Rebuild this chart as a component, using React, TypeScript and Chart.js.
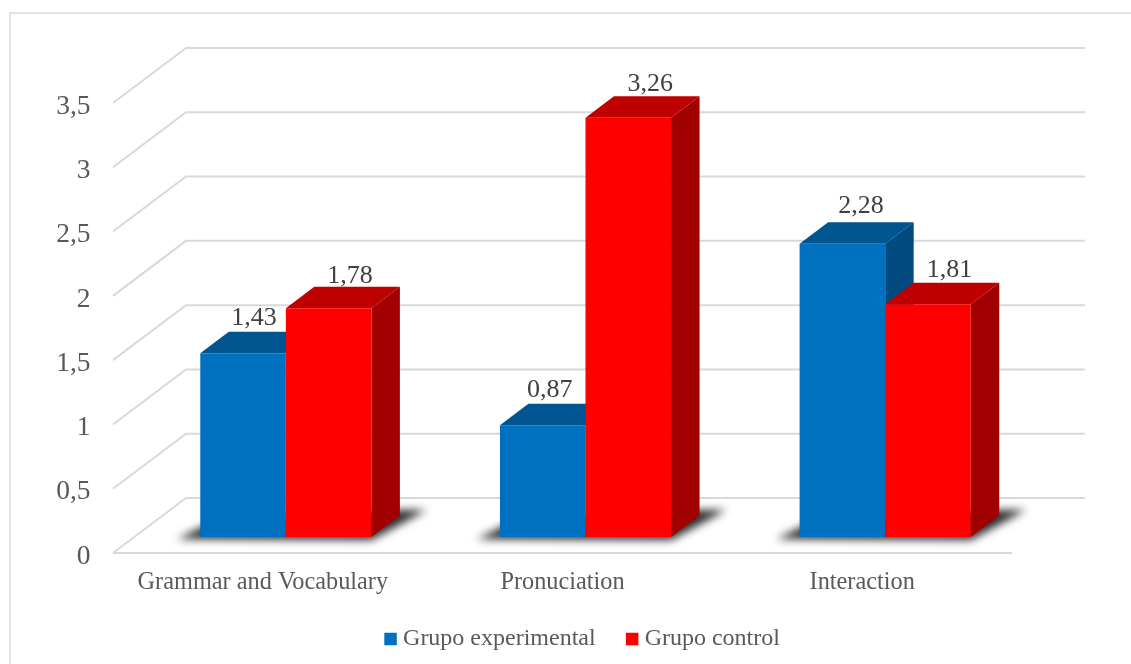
import React, { useEffect, useRef } from "react";
import { Chart, registerables } from "chart.js";

Chart.register(...registerables);

const categories = ["Grammar and Vocabulary", "Pronuciation", "Interaction"];
const grupoExperimental = [1.43, 0.87, 2.28];
const grupoControl = [1.78, 3.26, 1.81];
const seriesNames = ["Grupo experimental", "Grupo control"];
const seriesColors = ["#0070c0", "#ff0000"];
const topColors = ["#005490", "#bf0000"];
const sideColors = ["#004a80", "#a00000"];

const SERIF = "'Liberation Serif', 'Times New Roman', serif";
const GRID = "#d9d9d9";
const WALL_DX = 73, WALL_DY = -55;     // from front floor edge to back wall
const BAR_DX = 23, BAR_DY = -16;       // bars' front plane vs. floor front edge
const DEPTH_DX = 28.5, DEPTH_DY = -21.5; // bar depth

// hand-placed data label nudges, per series and category
const labelNudgeX = [[11, 7, 18.7], [21.5, 22, 21.5]];
const labelNudgeY = [[6.7, 7, 9], [3.5, 5, 6]];

const fmt = (v: number) => String(v).replace(".", ",");

const plugin3d = {
  id: "plugin3d",
  afterLayout(chart: any) {
    // the legend sits a little higher than the axis label box allows
    chart.legend.top -= 8;
    chart.legend.bottom -= 8;
  },
  beforeDraw(chart: any) {
    const { ctx, width } = chart;
    ctx.save();
    ctx.fillStyle = "#ffffff";
    ctx.fillRect(0, 0, width, chart.height);
    ctx.strokeStyle = "#d9d9d9";
    ctx.lineWidth = 1.5;
    ctx.strokeRect(10, 13, 1300, 800);
    ctx.restore();
  },
  beforeDatasetsDraw(chart: any) {
    const { ctx, scales } = chart;
    const x = scales.x, y = scales.y;
    ctx.save();
    // walls and floor grid
    ctx.strokeStyle = GRID;
    ctx.lineWidth = 2;
    ctx.lineJoin = "miter";
    y.ticks.forEach((t: any) => {
      const py = y.getPixelForValue(t.value);
      ctx.beginPath();
      ctx.moveTo(x.left, py);
      ctx.lineTo(x.left + WALL_DX, py + WALL_DY);
      ctx.lineTo(x.right + WALL_DX, py + WALL_DY);
      ctx.stroke();
    });
    const y0 = y.getPixelForValue(0);
    ctx.beginPath();
    ctx.moveTo(x.left, y0);
    ctx.lineTo(x.right, y0);
    ctx.stroke();

    // floor shadows
    const a = chart.getDatasetMeta(0).data;
    const b = chart.getDatasetMeta(1).data;
    a.forEach((el: any, i: number) => {
      const l = el.x - el.width / 2 + BAR_DX;
      const r = b[i].x + b[i].width / 2 + BAR_DX;
      const by = el.base + BAR_DY;
      ctx.save();
      ctx.filter = "blur(4px)";
      ctx.fillStyle = "#2b2b2b";
      ctx.beginPath();
      ctx.moveTo(l - 23, by + 2);
      ctx.lineTo(r, by + 3);
      ctx.lineTo(r + 55, by - 27);
      ctx.lineTo(r + 28, by - 27);
      ctx.lineTo(l + 10, by - 14);
      ctx.closePath();
      ctx.fill();
      ctx.restore();
    });

    // bar tops and sides
    ctx.translate(BAR_DX, BAR_DY);
    [0, 1].forEach((d) => {
      chart.getDatasetMeta(d).data.forEach((el: any) => {
        const l = el.x - el.width / 2;
        const r = el.x + el.width / 2;
        ctx.fillStyle = topColors[d];
        ctx.beginPath();
        ctx.moveTo(l, el.y);
        ctx.lineTo(l + DEPTH_DX, el.y + DEPTH_DY);
        ctx.lineTo(r + DEPTH_DX, el.y + DEPTH_DY);
        ctx.lineTo(r, el.y);
        ctx.closePath();
        ctx.fill();
        ctx.fillStyle = sideColors[d];
        ctx.beginPath();
        ctx.moveTo(r, el.y);
        ctx.lineTo(r + DEPTH_DX, el.y + DEPTH_DY);
        ctx.lineTo(r + DEPTH_DX, el.base + DEPTH_DY);
        ctx.lineTo(r, el.base);
        ctx.closePath();
        ctx.fill();
      });
    });
    // the offset stays on for the library's own bar drawing
  },
  afterDatasetsDraw(chart: any) {
    const { ctx } = chart;
    ctx.restore();
    // data labels
    ctx.save();
    ctx.fillStyle = "#404040";
    ctx.font = `26px ${SERIF}`;
    ctx.textAlign = "center";
    ctx.textBaseline = "alphabetic";
    [0, 1].forEach((d) => {
      const vals = chart.data.datasets[d].data;
      chart.getDatasetMeta(d).data.forEach((el: any, i: number) => {
        ctx.fillText(
          fmt(vals[i]),
          el.x + BAR_DX + labelNudgeX[d][i],
          el.y + BAR_DY + DEPTH_DY - labelNudgeY[d][i]
        );
      });
    });
    ctx.restore();
  },
};

export default function App() {
  const ref = useRef<HTMLCanvasElement>(null);
  useEffect(() => {
    const chart = new Chart(ref.current as HTMLCanvasElement, {
      type: "bar",
      data: {
        labels: categories,
        datasets: [
          { label: seriesNames[0], data: grupoExperimental, backgroundColor: seriesColors[0], borderWidth: 0 },
          { label: seriesNames[1], data: grupoControl, backgroundColor: seriesColors[1], borderWidth: 0 },
        ],
      },
      options: {
        responsive: false,
        animation: false,
        devicePixelRatio: 1,
        layout: { padding: { left: 39, top: 103, right: 0, bottom: -5 } },
        datasets: { bar: { barPercentage: 1, categoryPercentage: 0.571 } },
        plugins: {
          tooltip: { enabled: false },
          legend: {
            position: "bottom",
            labels: {
              font: { family: SERIF, size: 24 },
              color: "#595959",
              usePointStyle: true,
              pointStyle: "rect",
              boxWidth: 1,
              boxHeight: 12.5,
              padding: 36,
            },
          },
        },
        scales: {
          x: {
            grid: { display: false },
            border: { display: false },
            ticks: { color: "#595959", font: { family: SERIF, size: 24.3 }, maxRotation: 0, autoSkip: false, padding: 7 },
            afterFit(s: any) { s.height = 46; },
          },
          y: {
            min: 0,
            max: 3.5,
            grid: { display: false },
            border: { display: false },
            ticks: {
              stepSize: 0.5,
              color: "#595959",
              font: { family: SERIF, size: 27.5 },
              padding: 14.5,
              labelOffset: 3.5,
              callback: (v: any) => fmt(v),
            },
            afterFit(s: any) { s.width = 74; },
          },
          yRight: {
            position: "right",
            min: 0,
            max: 3.5,
            grid: { display: false },
            border: { display: false },
            ticks: { display: false },
            afterFit(s: any) { s.width = 119; },
          },
        },
      } as any,
      plugins: [plugin3d],
    });
    return () => chart.destroy();
  }, []);
  return (
    <div style={{ position: "absolute", left: 0, top: 0, width: 1131, height: 664, overflow: "hidden" }}>
      <canvas ref={ref} width={1131} height={664} style={{ display: "block" }} />
    </div>
  );
}
